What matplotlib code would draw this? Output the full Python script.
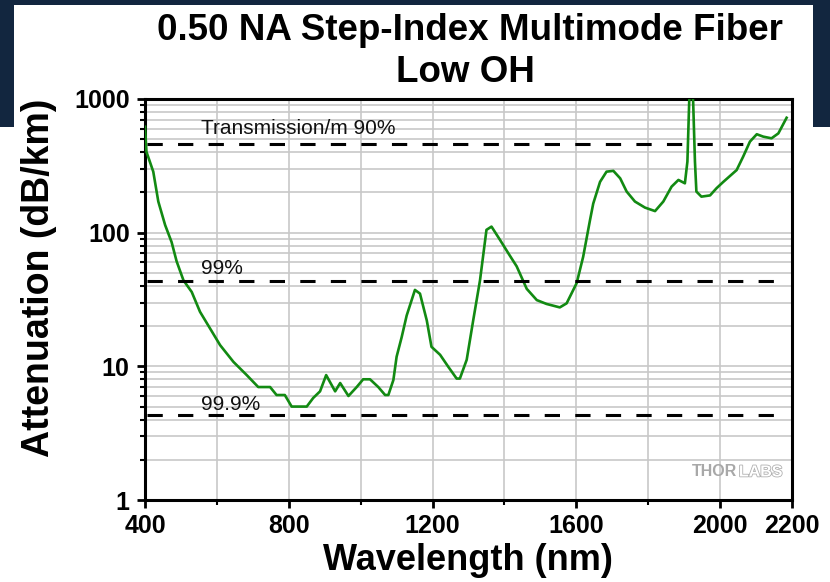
import numpy as np
import matplotlib.pyplot as plt
from matplotlib.patches import Rectangle
from matplotlib.ticker import FixedLocator, LogLocator, NullFormatter, FixedFormatter
import matplotlib.patheffects as pe

plt.rcParams['font.family'] = ['Liberation Sans', 'DejaVu Sans']

# -------------------------------
# Data
# -------------------------------
wavelength = [400, 404, 423, 437, 456, 474, 488, 507, 530, 553, 581, 609, 646, 683,
              715, 748, 766, 789, 808, 850, 868, 887, 904, 929, 943, 966, 989, 1007,
              1026, 1049, 1068, 1077, 1091, 1100, 1114, 1128, 1151, 1165, 1184, 1197,
              1221, 1244, 1267, 1276, 1295, 1313, 1332, 1350, 1364, 1388, 1411, 1434,
              1462, 1490, 1517, 1554, 1573, 1601, 1619, 1638, 1647, 1666, 1684, 1703,
              1722, 1740, 1763, 1791, 1819, 1842, 1865, 1884, 1902, 1909, 1914, 1919,
              1925, 1930, 1934, 1948, 1972, 1990, 2009, 2046, 2064, 2083, 2102, 2120,
              2143, 2162, 2185]
attenuation = [620, 403, 286, 171, 114, 85, 61, 44, 36, 25.6, 19.2, 14.4, 10.8, 8.6,
               7.0, 7.0, 6.1, 6.1, 5.0, 5.0, 5.8, 6.5, 8.6, 6.5, 7.5, 6.0, 7.0, 8.0,
               8.0, 7.0, 6.1, 6.1, 7.9, 11.8, 16.5, 24, 37.3, 35, 22, 14,
               12.2, 9.9, 8.1, 8.1, 11.2, 22, 44, 105, 111, 88, 70, 56,
               38, 31.3, 29.3, 27.6, 29.6, 42, 66, 124, 165, 240, 286, 290,
               255, 203, 171, 154, 145, 171, 221, 248, 234, 340, 955, 1400,
               955, 340, 203, 186, 190, 215, 240, 294, 370, 480, 545, 523,
               508, 553, 724]

# transmission reference levels (per metre)
trans_labels = ["Transmission/m 90%", "99%", "99.9%"]
trans_levels = [-10 * np.log10(t) * 1000 for t in [0.90, 0.99, 0.999]]
label_pos = [547, 49, 4.7]

xticks = [400, 800, 1200, 1600, 2000, 2200]
xtick_labels = ["400", "800", "1200", "1600", "2000", "2200"]
xminor = [600, 1000, 1400, 1800]

# -------------------------------
# Figure
# -------------------------------
fig = plt.figure(figsize=(8.3, 5.82), dpi=100)
fig.patch.set_facecolor("white")

navy = "#12263f"
for (x0, y0, w, h) in [(0, 1 - 5/582, 1, 5/582),
                       (0, 1 - 127/582, 14/830, 127/582),
                       (813/830, 1 - 127/582, 17/830, 127/582)]:
    fig.patches.append(Rectangle((x0, y0), w, h, transform=fig.transFigure,
                                 facecolor=navy, edgecolor="none", zorder=0))

ax = fig.add_axes([145/830, 1 - 500/582, 647/830, 401/582])
ax.set_xlim(400, 2200)
ax.set_yscale("log")
ax.set_ylim(1, 1000)

# grid
ax.xaxis.set_major_locator(FixedLocator(xticks))
ax.xaxis.set_minor_locator(FixedLocator(xminor))
ax.xaxis.set_major_formatter(FixedFormatter(xtick_labels))
ax.yaxis.set_minor_locator(LogLocator(base=10, subs=np.arange(2, 10)))
ax.yaxis.set_minor_formatter(NullFormatter())
ax.set_yticks([1, 10, 100, 1000])
ax.set_yticklabels(["1", "10", "100", "1000"])
ax.grid(True, which="both", color="#c8c8c8", linewidth=1.2, zorder=0)

ax.plot(wavelength, attenuation, color="#128a12", linewidth=1.9, zorder=3)

for lvl, lab, ly in zip(trans_levels, trans_labels, label_pos):
    ax.hlines(lvl, 405, 2165, colors="black", linewidth=2.2,
              linestyles=(0, (5, 5)), zorder=4)
    ax.text(557, ly, lab, fontsize=15, color="#111111", zorder=5)

for s in ax.spines.values():
    s.set_linewidth(2.2)
    s.set_color("black")

ax.tick_params(axis="both", which="major", direction="out", length=6, width=2,
               labelsize=18, pad=5)
ax.tick_params(axis="x", which="major", pad=4)
ax.tick_params(axis="both", which="minor", direction="out", length=3.5, width=1.5)
for t in ax.get_xticklabels() + ax.get_yticklabels():
    t.set_fontweight("bold")

# axis titles
fig.text(468/830, 1 - 570/582, "Wavelength (nm)", fontsize=26, fontweight="bold",
         ha="center", va="baseline")
fig.text(39/830, 1 - 278/582, "Attenuation (dB/km)", fontsize=27, fontweight="bold",
         ha="center", va="center", rotation=90)

fig.text(470/830, 1 - 30/582, "0.50 NA Step-Index Multimode Fiber", fontsize=26.5,
         fontweight="bold", ha="center", va="center")
fig.text(465/830, 1 - 73/582, "Low OH", fontsize=26.5, fontweight="bold",
         ha="center", va="center")

# watermark
ax.text(0.845, 0.07, "THOR", transform=ax.transAxes, fontsize=11.5,
        fontweight="bold", color="#a8a8a8", ha="left", va="center", zorder=5)
ax.text(0.918, 0.07, "LABS", transform=ax.transAxes, fontsize=11.5,
        fontweight="bold", color="white", ha="left", va="center", zorder=5,
        path_effects=[pe.withStroke(linewidth=1.2, foreground="#b0b0b0")])

plt.savefig("out.png", dpi=100)
plt.close()
